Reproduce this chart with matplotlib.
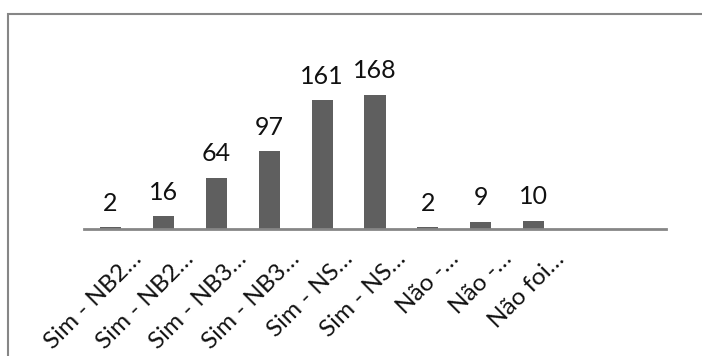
import matplotlib.pyplot as plt
from matplotlib.patches import Rectangle
import matplotlib.transforms as mtransforms

# categorias e contagens
categorias = ['Sim - NB2…', 'Sim - NB2…', 'Sim - NB3…', 'Sim - NB3…', 'Sim - NS…',
              'Sim - NS…', 'Não -…', 'Não -…', 'Não foi…', '', '']
valores = [2, 16, 64, 97, 161, 168, 2, 9, 10, None, None]

plt.rcParams['font.family'] = ['Lato', 'DejaVu Sans']

fig = plt.figure(figsize=(7.02, 3.56), dpi=100)
ax = fig.add_axes([84 / 702, 1 - 229 / 356, 582 / 702, 160 / 356])

# moldura do gráfico (cortada à direita e em baixo)
fig.patches.append(Rectangle((7.5 / 702, -0.2), 1.2, 1.2 - 14.5 / 356,
                             transform=fig.transFigure, fill=False,
                             edgecolor='#868686', linewidth=1.5))

x = list(range(len(categorias)))
for i, v in enumerate(valores):
    if v is None:
        continue
    ax.bar(i, v, width=0.4, color='#5f5f5f')
    ax.annotate(str(v), (i, v), xytext=(0, 9), textcoords='offset points',
                ha='center', va='bottom', fontsize=18, color='#111111')

ax.set_xlim(-0.5, len(categorias) - 0.5)
ax.set_ylim(0, 200)
ax.set_xticks(x)
ax.set_xticklabels([])

# rótulos das categorias inclinados a 45 graus
offset = mtransforms.ScaledTranslation(20 / 100, -19 / 100, fig.dpi_scale_trans)
trans = ax.get_xaxis_transform() + offset
for i, nome in enumerate(categorias):
    ax.text(i, 0, nome, transform=trans, rotation=45, ha='right', va='top',
            rotation_mode='anchor', fontsize=17.5, color='#111111')

ax.tick_params(axis='x', length=0, pad=0)
ax.set_yticks([])
for s in ['top', 'right', 'left']:
    ax.spines[s].set_visible(False)
ax.spines['bottom'].set_color('#868686')
ax.spines['bottom'].set_linewidth(2)

fig.savefig('out.png', dpi=100)
